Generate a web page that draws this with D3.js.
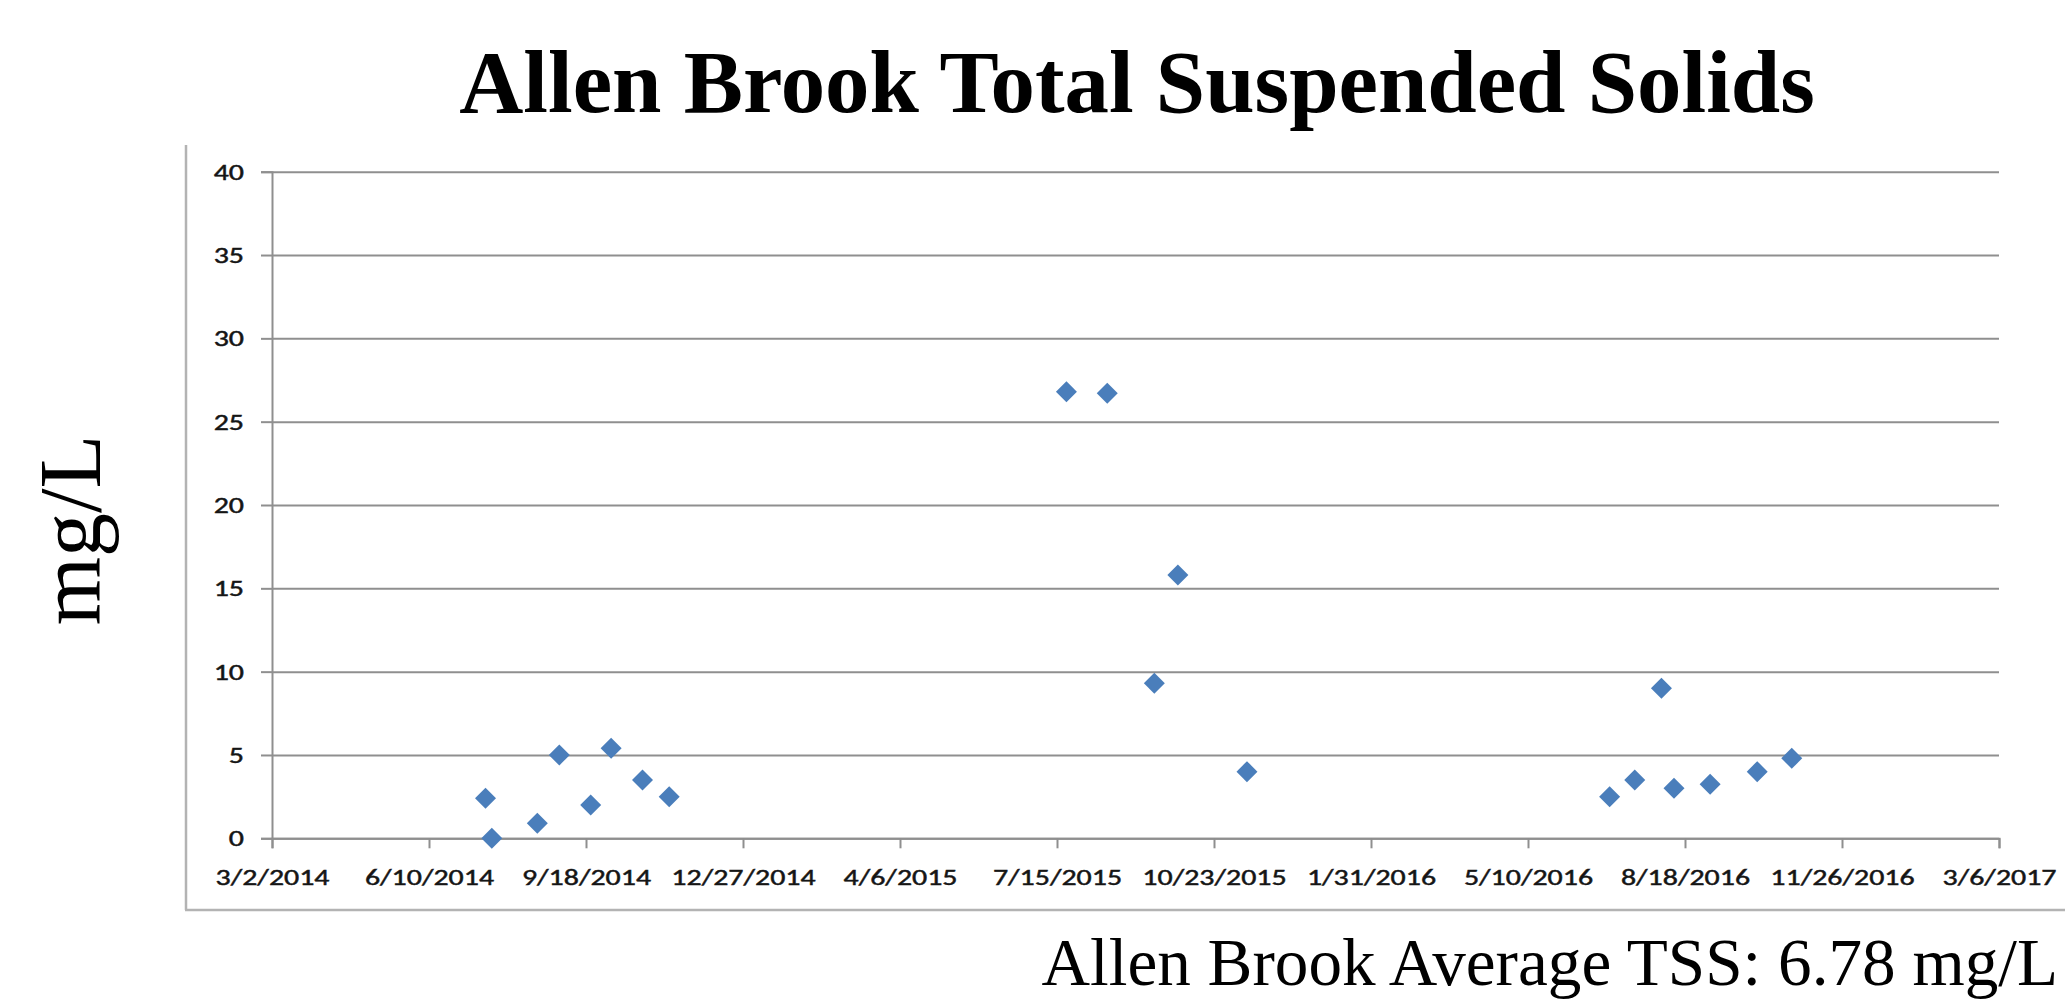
<!DOCTYPE html>
<html>
<head>
<meta charset="utf-8">
<script src="https://cdn.jsdelivr.net/npm/d3@7"></script>
<style>
  html, body { margin: 0; padding: 0; background: #fff; }
  svg { display: block; }
</style>
</head>
<body>
<svg id="chart" width="2065" height="999"></svg>
<script>
// ---- data ----
const sampleDates = [
  "2014-07-16", "2014-07-20", "2014-08-18", "2014-09-01", "2014-09-21", "2014-10-04", "2014-10-24", "2014-11-10",
  "2015-07-21", "2015-08-16", "2015-09-15", "2015-09-30", "2015-11-13",
  "2016-07-01", "2016-07-17", "2016-08-03", "2016-08-11", "2016-09-03", "2016-10-03", "2016-10-25"
];
const tssValues = [
  2.4, 0.0, 0.9, 5.0, 2.0, 5.4, 3.5, 2.5,
  26.8, 26.7, 9.3, 15.8, 4.0,
  2.5, 3.5, 9.0, 3.0, 3.25, 4.0, 4.8
];
const xTickLabels = ["3/2/2014", "6/10/2014", "9/18/2014", "12/27/2014", "4/6/2015", "7/15/2015",
  "10/23/2015", "1/31/2016", "5/10/2016", "8/18/2016", "11/26/2016", "3/6/2017"];
const yTickValues = [0, 5, 10, 15, 20, 25, 30, 35, 40];
const titleText = "Allen Brook Total Suspended Solids";
const yAxisTitle = "mg/L";
const noteText = "Allen Brook Average TSS: 6.78 mg/L";

// ---- setup ----
const svg = d3.select("#chart");
const parseISO = d3.utcParse("%Y-%m-%d");
const parseMDY = d3.utcParse("%m/%d/%Y");
const fmtMDY = d3.utcFormat("%-m/%-d/%Y");
const xTicks = xTickLabels.map(parseMDY);

const plotLeft = 272, plotRight = 1999, plotTop = 171.7, plotBottom = 838.3;
const x = d3.scaleUtc().domain([xTicks[0], xTicks[xTicks.length - 1]]).range([plotLeft, plotRight]);
const y = d3.scaleLinear().domain([0, 40]).range([plotBottom, plotTop]);

const gridColor = "#8f8f8f";
const labelFont = "Carlito, Calibri, Lato, 'Liberation Sans', sans-serif";

// outer frame (partially visible)
svg.append("line").attr("x1", 186).attr("x2", 186).attr("y1", 145).attr("y2", 910)
  .attr("stroke", "#b3b3b3").attr("stroke-width", 2.5);
svg.append("line").attr("x1", 185).attr("x2", 2065).attr("y1", 910).attr("y2", 910)
  .attr("stroke", "#b3b3b3").attr("stroke-width", 2.5);

// y axis with gridlines
const yAxis = svg.append("g")
  .attr("transform", `translate(${plotLeft},0)`)
  .call(d3.axisLeft(y).tickValues(yTickValues).tickSize(11).tickPadding(17).tickFormat(d3.format("d")));
yAxis.select(".domain").attr("stroke", gridColor).attr("stroke-width", 2);
yAxis.selectAll(".tick line").attr("stroke", gridColor).attr("stroke-width", 2);
yAxis.selectAll(".tick").append("line")
  .attr("x1", 0).attr("x2", plotRight - plotLeft)
  .attr("stroke", gridColor).attr("stroke-width", 2);

// x axis
const xAxis = svg.append("g")
  .attr("transform", `translate(0,${plotBottom})`)
  .call(d3.axisBottom(x).tickValues(xTicks).tickSize(10).tickPadding(20).tickFormat(fmtMDY));
xAxis.select(".domain").attr("stroke", gridColor).attr("stroke-width", 2);
xAxis.selectAll(".tick line").attr("stroke", gridColor).attr("stroke-width", 2);

// tick labels: dark, slightly heavy and horizontally stretched like the reference
svg.selectAll(".tick text")
  .attr("font-family", labelFont).attr("font-size", 23).attr("fill", "#151515")
  .attr("stroke", "#151515").attr("stroke-width", 0.45)
  .each(function () {
    const w = this.getComputedTextLength();
    d3.select(this).attr("textLength", w * 1.3).attr("lengthAdjust", "spacingAndGlyphs");
  });

// markers
const diamond = d3.symbol().type(d3.symbolSquare).size(220);
svg.append("g").selectAll("path")
  .data(sampleDates.map((d, i) => ({ date: parseISO(d), v: tssValues[i] })))
  .join("path")
  .attr("d", diamond)
  .attr("transform", d => `translate(${x(d.date)},${y(d.v)}) rotate(45)`)
  .attr("fill", "#4a7ebb");

// title
svg.append("text").attr("x", 1137).attr("y", 112).attr("text-anchor", "middle")
  .attr("font-family", "'Liberation Serif', 'Times New Roman', serif")
  .attr("font-weight", "bold").attr("font-size", 88.8).attr("fill", "#000")
  .text(titleText);

// y axis title
svg.append("text").attr("transform", "translate(100,530) rotate(-90)").attr("text-anchor", "middle")
  .attr("font-family", "'Liberation Serif', 'Times New Roman', serif")
  .attr("font-size", 88).attr("fill", "#000")
  .text(yAxisTitle);

// average note
svg.append("text").attr("x", 2058).attr("y", 985).attr("text-anchor", "end")
  .attr("font-family", "'Liberation Serif', 'Times New Roman', serif")
  .attr("font-size", 67.2).attr("fill", "#000")
  .text(noteText);
</script>
</body>
</html>
